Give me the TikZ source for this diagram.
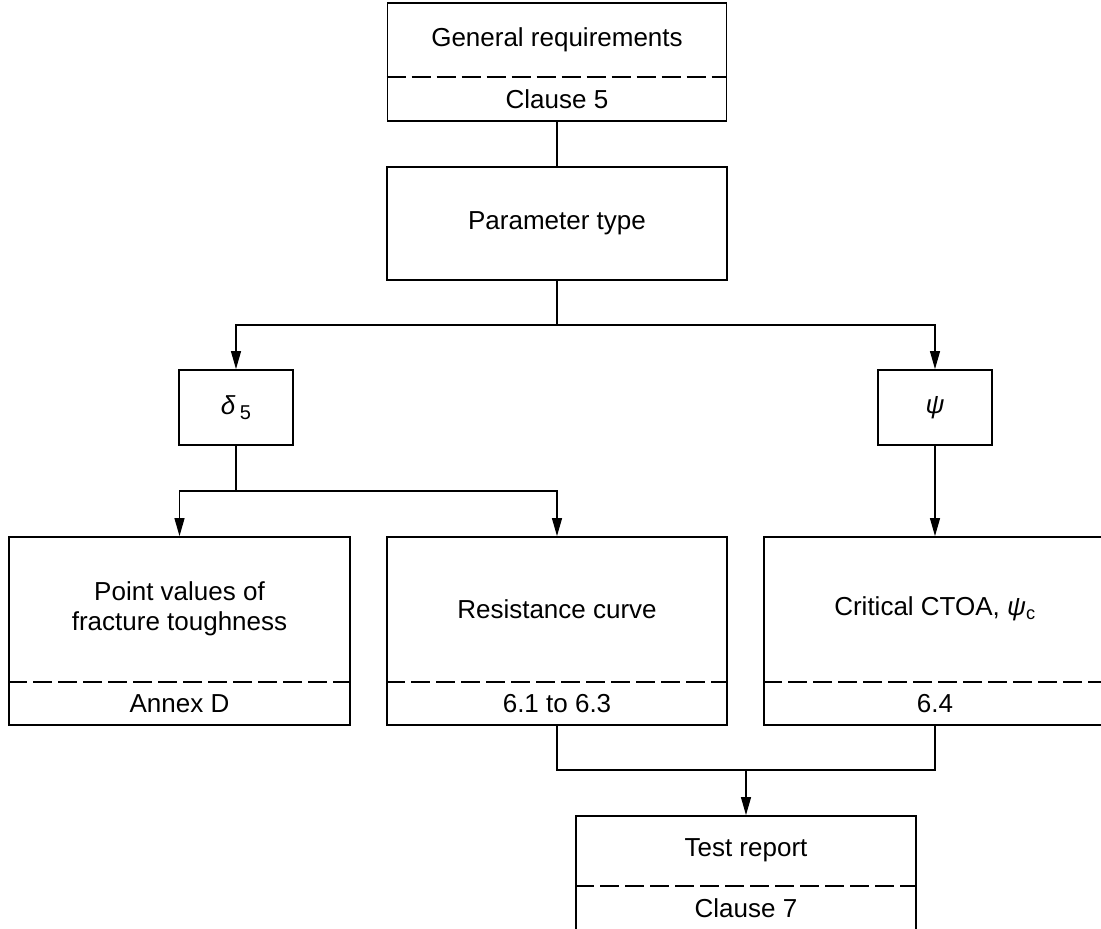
\documentclass[tikz,border=0pt]{standalone}
\usepackage{fontspec}
\setmainfont{Liberation Sans}
\usetikzlibrary{arrows.meta, calc, positioning}

\tikzset{
  % Flow boxes
  flowbox/.style={
    draw=black, line width=1.8pt, inner sep=0pt,
    minimum width=340pt, minimum height=113pt,
    font=\fontsize{26}{30}\selectfont, align=center,
  },
  greekbox/.style={flowbox, minimum width=114pt, minimum height=75pt},
  % Separator inside a box
  sepline/.style={line width=1.7pt, dash pattern=on 19pt off 6pt},
  % Texts inside split boxes
  txt/.style={font=\fontsize{26}{30}\selectfont, align=center, inner sep=0pt},
  % Connectors
  link/.style={line width=1.2pt},
  arr/.style={link, -{Triangle[length=18pt, width=10pt]}},
}

\begin{document}
\begin{tikzpicture}[x=1pt, y=1pt]
  \useasboundingbox (0,0) rectangle (1101,929);

  % General requirements
  \node[flowbox, minimum width=339pt, minimum height=118pt] (gen) at (557,867) {};
  \coordinate (genD) at ($(gen.south)+(0,45)$);
  \draw[sepline] (gen.west |- genD) -- (gen.east |- genD);
  \node[txt] (genT) at ($(gen.north)!.5!(genD)$) {General requirements};
  \node[txt] (genR) at ($(gen.south)!.5!(genD)$) {Clause 5};

  \node[flowbox] (param) at (557,705.5) {Parameter type};

  \node[greekbox] (delta) at (236,521.5) {\textit{δ}\,\raisebox{-5pt}{\fontsize{20}{24}\selectfont 5}};
  \node[greekbox] (psi) at (935,521.5) {\textit{ψ}};

  % Point values
  \node[flowbox, minimum width=341pt, minimum height=188pt] (point) at (179.5,298) {};
  \coordinate (pointD) at ($(point.south)+(0,44)$);
  \draw[sepline] (point.west |- pointD) -- (point.east |- pointD);
  \node[txt] (pointT) at ($(point.north)!.5!(pointD)$) {Point values of\\fracture toughness};
  \node[txt] (pointR) at ($(point.south)!.5!(pointD)$) {Annex D};

  % Resistance curve
  \node[flowbox, minimum height=188pt] (resist) at (557,298) {};
  \coordinate (resistD) at ($(resist.south)+(0,44)$);
  \draw[sepline] (resist.west |- resistD) -- (resist.east |- resistD);
  \node[txt] (resistT) at ($(resist.north)!.5!(resistD)$) {Resistance curve};
  \node[txt] (resistR) at ($(resist.south)!.5!(resistD)$) {6.1 to 6.3};

  % Critical CTOA
  \node[flowbox, minimum width=342pt, minimum height=188pt] (crit) at (935,298) {};
  \coordinate (critD) at ($(crit.south)+(0,44)$);
  \draw[sepline] (crit.west |- critD) -- (crit.east |- critD);
  \node[txt] (critT) at ($(crit.north)!.5!(critD)$) {Critical CTOA, \textit{ψ}\textsubscript{c}};
  \node[txt] (critR) at ($(crit.south)!.5!(critD)$) {6.4};

  % Test report
  \node[flowbox, minimum height=114pt] (test) at (746,56) {};
  \coordinate (testD) at ($(test.south)+(0,45)$);
  \draw[sepline] (test.west |- testD) -- (test.east |- testD);
  \node[txt] (testT) at ($(test.north)!.5!(testD)$) {Test report};
  \node[txt] (testR) at ($(test.south)!.5!(testD)$) {Clause 7};

  % Connectors
  \coordinate (fork1) at (557,604);
  \coordinate (fork2) at (236,438);
  \coordinate (join) at (746,159);
  \draw[link] (gen) -- (param);
  \draw[link] (param.south) -- (fork1);
  \draw[arr] (fork1) -| (delta.north);
  \draw[arr] (fork1) -| (psi.north);
  \draw[link] (delta.south) -- (fork2);
  \draw[arr] (fork2) -| (point.north);
  \draw[arr] (fork2) -| (resist.north);
  \draw[arr] (psi) -- (crit);
  \draw[link] (resist.south) |- (join);
  \draw[link] (crit.south) |- (join);
  \draw[arr] (join) -- (test);
\end{tikzpicture}
\end{document}
